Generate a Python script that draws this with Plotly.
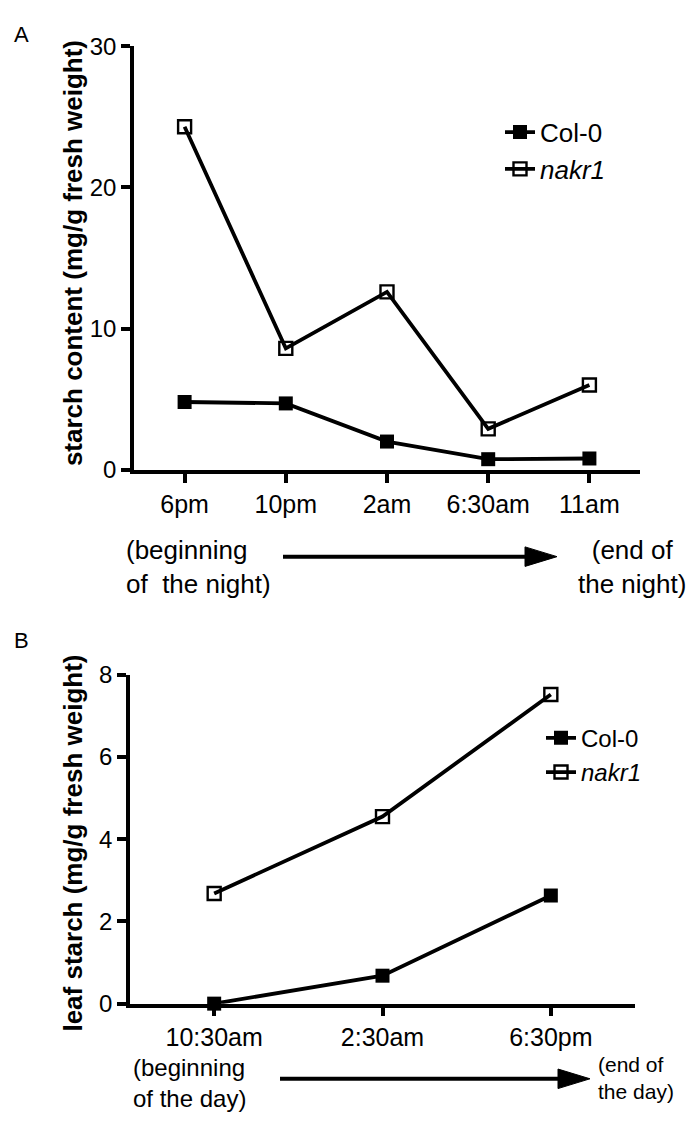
import plotly.graph_objects as go

W, H = 691, 1124
FONT = "Liberation Sans, Arial, Helvetica, sans-serif"


def px(x):
    return x / W


def py(y):
    return 1 - y / H


# Panel A: starch through the night
night_times = ["6pm", "10pm", "2am", "6:30am", "11am"]
night_col0 = [4.8, 4.7, 2.0, 0.75, 0.8]
night_nakr1 = [24.3, 8.6, 12.6, 2.9, 6.0]

# Panel B: starch through the day
day_times = ["10:30am", "2:30am", "6:30pm"]
day_col0 = [0.0, 0.68, 2.63]
day_nakr1 = [2.68, 4.55, 7.52]

LINE_W = 3.8

fig = go.Figure()


def add_pair(x, col0, nakr1, xa, ya, legend):
    fig.add_trace(go.Scatter(
        x=x, y=col0, name="Col-0", mode="lines+markers",
        xaxis=xa, yaxis=ya, legend=legend,
        line=dict(color="black", width=LINE_W),
        marker=dict(symbol="square", size=14, color="black"),
        cliponaxis=False,
    ))
    fig.add_trace(go.Scatter(
        x=x, y=nakr1, name="<i>nakr1</i>", mode="lines+markers",
        xaxis=xa, yaxis=ya, legend=legend,
        line=dict(color="black", width=LINE_W),
        marker=dict(symbol="square-open", size=13, color="black",
                    line=dict(width=2.4, color="black")),
        cliponaxis=False,
    ))


add_pair(night_times, night_col0, night_nakr1, "x", "y", "legend")
add_pair(day_times, day_col0, day_nakr1, "x2", "y2", "legend2")

axis_common = dict(
    showline=True, linecolor="black", linewidth=3.5,
    ticks="outside", ticklen=9, tickwidth=3.5, tickcolor="black",
    showgrid=False, zeroline=False,
)
xfont = dict(family=FONT, size=25, color="black")
yfont = dict(family=FONT, size=24, color="black")

fig.update_layout(
    width=W, height=H,
    margin=dict(l=0, r=0, t=0, b=0),
    paper_bgcolor="white", plot_bgcolor="white",
    font=dict(family=FONT, color="black"),
    xaxis=dict(domain=[px(134), px(640)], anchor="y", type="category",
               range=[-0.5, 4.5], tickfont=xfont, **axis_common),
    yaxis=dict(domain=[py(467), py(33)], anchor="x", range=[0, 30],
               tickvals=[0, 10, 20, 30], tickfont=yfont, **axis_common),
    xaxis2=dict(domain=[px(130), px(635)], anchor="y2", type="category",
                range=[-0.5, 2.5], tickfont=xfont, **axis_common),
    yaxis2=dict(domain=[py(1014), py(677)], anchor="x2", range=[0, 8],
                tickvals=[0, 2, 4, 6, 8], tickfont=yfont, **axis_common),
    legend=dict(x=px(500), y=py(97), xanchor="left", yanchor="top",
                font=dict(family=FONT, size=26, color="black"),
                bgcolor="rgba(0,0,0,0)", itemclick=False),
    legend2=dict(x=px(541), y=py(719), xanchor="left", yanchor="top",
                 font=dict(family=FONT, size=24, color="black"),
                 bgcolor="rgba(0,0,0,0)", itemclick=False),
    showlegend=True,
)

annotations = [
    # panel letters
    dict(text="A", x=px(12), y=py(21), xanchor="left", yanchor="middle", font=dict(size=22)),
    dict(text="B", x=px(12), y=py(642), xanchor="left", yanchor="middle", font=dict(size=22)),
    # y-axis titles
    dict(text="<b>starch content (mg/g fresh weight)</b>", x=px(73), y=py(245),
         textangle=-90, xanchor="center", yanchor="middle", font=dict(size=26)),
    dict(text="<b>leaf starch (mg/g fresh weight)</b>", x=px(73), y=py(850),
         textangle=-90, xanchor="center", yanchor="middle", font=dict(size=26)),
    # time-of-night labels
    dict(text="(beginning<br>of  the night)", x=px(124), y=py(567), align="left",
         xanchor="left", yanchor="middle", font=dict(size=26)),
    dict(text="(end of<br>the night)", x=px(632), y=py(567), align="center",
         xanchor="center", yanchor="middle", font=dict(size=26)),
    # time-of-day labels
    dict(text="(beginning<br>of the day)", x=px(131), y=py(1095), align="left",
         xanchor="left", yanchor="middle", font=dict(size=24)),
    dict(text="(end of<br>the day)", x=px(596), y=py(1090), align="left",
         xanchor="left", yanchor="middle", font=dict(size=21)),
]
for a in annotations:
    a.update(xref="paper", yref="paper", showarrow=False)
    a["font"] = dict(family=FONT, color="black", **a["font"])
fig.update_layout(annotations=annotations)


def arrow(x0, x1, y, head=32, half=10):
    # shaft plus filled triangular head, drawn in paper coordinates
    shaft = dict(type="line", xref="paper", yref="paper",
                 x0=px(x0), x1=px(x1 - head + 2), y0=py(y), y1=py(y),
                 line=dict(color="black", width=4))
    tri = dict(type="path", xref="paper", yref="paper",
               path=(f"M {px(x1 - head)},{py(y - half)} L {px(x1)},{py(y)} "
                     f"L {px(x1 - head)},{py(y + half)} Z"),
               fillcolor="black", line=dict(color="black", width=1))
    return [shaft, tri]


fig.update_layout(shapes=arrow(283, 557, 556) + arrow(280, 590, 1091))

fig.write_html("out.html")
